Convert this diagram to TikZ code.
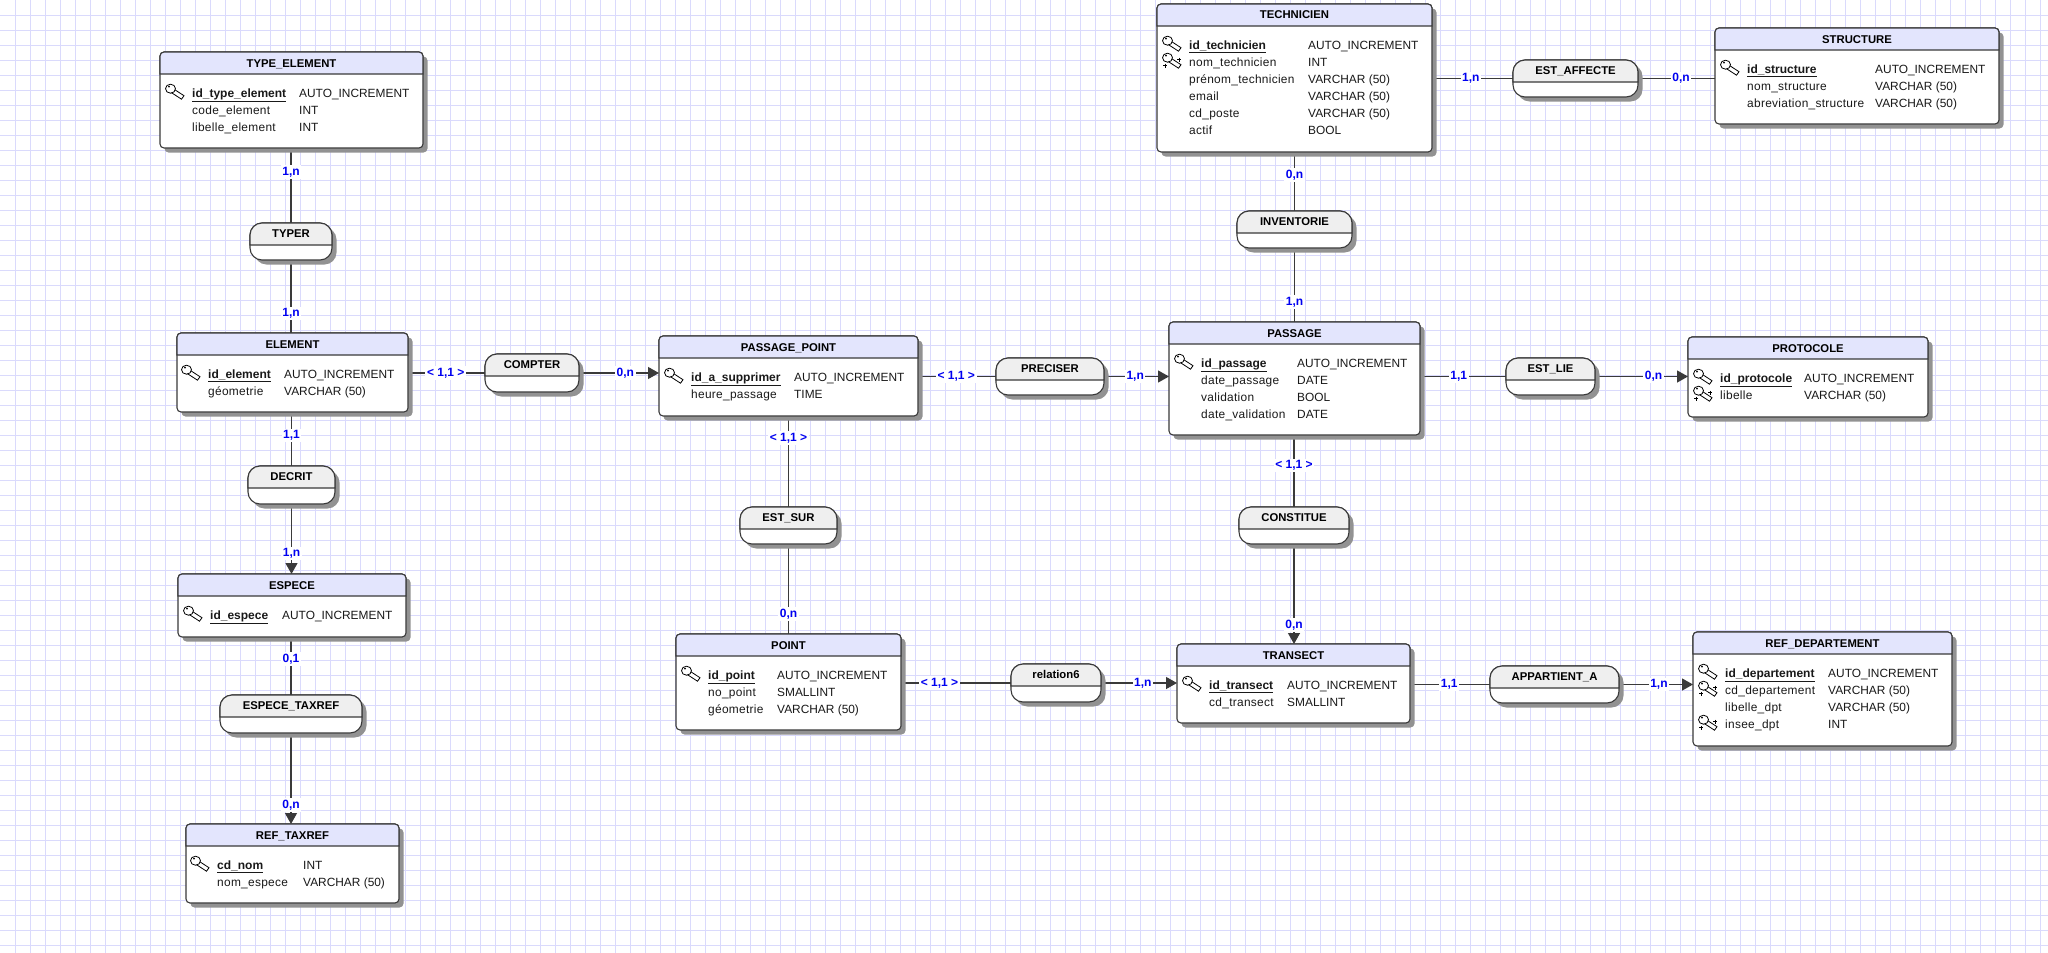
\documentclass[tikz,border=0pt]{standalone}
\usepackage{fontspec}
\setmainfont{Liberation Sans}
\newfontfamily\champfont[LetterSpace=2.5]{Liberation Sans}
\usepackage{tikz}
\usetikzlibrary{arrows.meta,backgrounds,shadows}
\definecolor{quadrillage}{HTML}{DADAFC}
\definecolor{trait}{HTML}{3A3A3A}
\definecolor{ombre}{HTML}{929292}
\definecolor{lavande}{HTML}{E3E5FD}
\definecolor{grisclair}{HTML}{EFEFEF}
\definecolor{bleucard}{HTML}{0000F0}
\tikzset{
  entite/.style={draw=trait, fill=white, line width=1.1pt, rounded corners=4pt, inner sep=0pt, outer sep=0pt,
    drop shadow={shadow xshift=4.5pt, shadow yshift=-4.5pt, fill=ombre, opacity=1}},
  assoc/.style={entite, rounded corners=12pt},
  bandeau/.style={draw=trait, fill=lavande, line width=1.1pt},
  bandeau assoc/.style={bandeau, fill=grisclair},
  titre/.style={anchor=base, inner sep=0pt, font=\fontsize{11.3}{13}\selectfont\bfseries, text=black},
  champ/.style={anchor=base west, inner sep=0pt, font=\fontsize{11.9}{14}\selectfont, text=black!90},
  lien/.style={draw=trait, line width=1.2pt, >={Triangle[length=11pt,width=12pt]}},
  card/.style={fill=white, inner sep=1.6pt, font=\fontsize{12}{13}\selectfont\bfseries, text=bleucard},
  trait cle/.style={draw=black, line width=.8pt, fill=white},
  pics/cleprim/.style={code={
    \draw[trait cle] (-18,-3.5) -- (-8,3) -- (-10.5,6.5) -- (-20.5,0) -- cycle;
    \draw[trait cle] (-21.5,-4) ellipse [x radius=5, y radius=4.5];
    \fill (-23,-6) circle [radius=1];
  }},
  pics/clesec/.style={code={
    \pic {cleprim};
    \draw[black, line width=.8pt] (-12,-2) -- (-8,-2) (-10,-4) -- (-10,0) (-26,4) -- (-22,4) (-24,2) -- (-24,6);
  }}
}

% nom, titre, gauche, haut, droite, bas, x champ, x type, lignes
\newcommand{\entiteMCD}[9]{
  \node[entite, minimum width={(#5-#3)*1pt}, minimum height={(#6-#4)*1pt}] (#1) at ({(#3+#5)/2},{(#4+#6)/2}) {};
  \filldraw[bandeau] (#3,{#4+22}) [rounded corners=4pt] -- (#3,#4) -- (#5,#4) [sharp corners] -- (#5,{#4+22}) -- cycle;
  \node[titre] (#1_titre) at ({(#3+#5)/2},{#4+15}) {#2};
  \foreach \champ/\typ/\cle [count=\ligne] in {#9} {
    \pgfmathsetmacro{\ycentre}{#4+23.7+17*\ligne}
    \ifnum\cle=1
      \node[champ] (#1_c\ligne) at (#7,\ycentre+4.3) {\textbf{\underline{\fontsize{12}{14}\selectfont\champ}}};
      \pic at (#7,\ycentre) {cleprim};
    \else
      \node[champ] (#1_c\ligne) at (#7,\ycentre+4.3) {\champfont\champ};
    \fi
    \ifnum\cle=2
      \pic at (#7,\ycentre) {clesec};
    \fi
    \node[champ] (#1_t\ligne) at (#8,\ycentre+4.3) {\typ};
  }
}
% nom, titre, gauche, haut, droite, bas
\newcommand{\assocMCD}[6]{
  \node[assoc, minimum width={(#5-#3)*1pt}, minimum height={(#6-#4)*1pt}] (#1) at ({(#3+#5)/2},{(#4+#6)/2}) {};
  \filldraw[bandeau assoc] (#3,{#4+22}) [rounded corners=12pt] -- (#3,#4) -- (#5,#4) [sharp corners] -- (#5,{#4+22}) -- cycle;
  \node[titre] (#1_titre) at ({(#3+#5)/2},{#4+14.5}) {#2};
}

\begin{document}
\begin{tikzpicture}[x=1pt,y=-1pt]
  \useasboundingbox (0,0) rectangle (2048,953);

  % entites
  \entiteMCD{type_element}{TYPE\_ELEMENT}{160}{52}{423}{148}{192}{299}{id\_type\_element/AUTO\_INCREMENT/1, code\_element/INT/0, libelle\_element/INT/0}
  \entiteMCD{element}{ELEMENT}{177}{333}{408}{412}{208}{284}{id\_element/AUTO\_INCREMENT/1, géometrie/VARCHAR (50)/0}
  \entiteMCD{espece}{ESPECE}{178}{574}{406}{637}{210}{282}{id\_espece/AUTO\_INCREMENT/1}
  \entiteMCD{ref_taxref}{REF\_TAXREF}{186}{824}{399}{903}{217}{303}{cd\_nom/INT/1, nom\_espece/VARCHAR (50)/0}
  \entiteMCD{passage_point}{PASSAGE\_POINT}{659}{336}{918}{416}{691}{794}{id\_a\_supprimer/AUTO\_INCREMENT/1, heure\_passage/TIME/0}
  \entiteMCD{point}{POINT}{676}{634}{901}{730}{708}{777}{id\_point/AUTO\_INCREMENT/1, no\_point/SMALLINT/0, géometrie/VARCHAR (50)/0}
  \entiteMCD{technicien}{TECHNICIEN}{1157}{4}{1432}{152}{1189}{1308}{id\_technicien/AUTO\_INCREMENT/1, nom\_technicien/INT/2, prénom\_technicien/VARCHAR (50)/0, email/VARCHAR (50)/0, cd\_poste/VARCHAR (50)/0, actif/BOOL/0}
  \entiteMCD{passage}{PASSAGE}{1169}{322}{1420}{435}{1201}{1297}{id\_passage/AUTO\_INCREMENT/1, date\_passage/DATE/0, validation/BOOL/0, date\_validation/DATE/0}
  \entiteMCD{transect}{TRANSECT}{1177}{644}{1410}{723}{1209}{1287}{id\_transect/AUTO\_INCREMENT/1, cd\_transect/SMALLINT/0}
  \entiteMCD{structure}{STRUCTURE}{1715}{28}{1999}{124}{1747}{1875}{id\_structure/AUTO\_INCREMENT/1, nom\_structure/VARCHAR (50)/0, abreviation\_structure/VARCHAR (50)/0}
  \entiteMCD{protocole}{PROTOCOLE}{1688}{337}{1928}{417}{1720}{1804}{id\_protocole/AUTO\_INCREMENT/1, libelle/VARCHAR (50)/2}
  \entiteMCD{ref_departement}{REF\_DEPARTEMENT}{1693}{632}{1952}{746}{1725}{1828}{id\_departement/AUTO\_INCREMENT/1, cd\_departement/VARCHAR (50)/2, libelle\_dpt/VARCHAR (50)/0, insee\_dpt/INT/2}

  % associations
  \assocMCD{typer}{TYPER}{250}{223}{332}{260}
  \assocMCD{decrit}{DECRIT}{248}{466}{335}{504}
  \assocMCD{espece_taxref}{ESPECE\_TAXREF}{220}{695}{362}{733}
  \assocMCD{compter}{COMPTER}{485}{354}{579}{392}
  \assocMCD{preciser}{PRECISER}{996}{358}{1104}{395}
  \assocMCD{est_sur}{EST\_SUR}{740}{507}{837}{544}
  \assocMCD{relation6}{relation6}{1011}{664}{1101}{702}
  \assocMCD{inventorie}{INVENTORIE}{1237}{211}{1352}{248}
  \assocMCD{constitue}{CONSTITUE}{1239}{507}{1349}{544}
  \assocMCD{est_affecte}{EST\_AFFECTE}{1513}{60}{1638}{97}
  \assocMCD{est_lie}{EST\_LIE}{1506}{358}{1595}{395}
  \assocMCD{appartient_a}{APPARTIENT\_A}{1490}{666}{1619}{703}

  \begin{scope}[on background layer]
    \fill[white] (0,0) rectangle (2048,953);
    \foreach \gx in {15,30,...,2040}
      \draw[quadrillage, line width=1pt] (\gx+.5,0) -- (\gx+.5,953);
    \foreach \gy in {15,30,...,945}
      \draw[quadrillage, line width=1pt] (0,\gy+.5) -- (2048,\gy+.5);

    % liens verticaux
    \draw[lien] (typer.north |- type_element.south) -- node[card,pos=.32] (c1) {1,n} (typer.north);
    \draw[lien] (typer.south) -- node[card,pos=.73] (c2) {1,n} (typer.south |- element.north);
    \draw[lien] (decrit.north |- element.south) -- node[card,pos=.44] (c3) {1,1} (decrit.north);
    \draw[lien,->] (decrit.south) -- node[card,pos=.71] (c4) {1,n} (decrit.south |- espece.north);
    \draw[lien] (espece_taxref.north |- espece.south) -- node[card,pos=.38] (c5) {0,1} (espece_taxref.north);
    \draw[lien,->] (espece_taxref.south) -- node[card,pos=.79] (c6) {0,n} (espece_taxref.south |- ref_taxref.north);
    \draw[lien] (est_sur.north |- passage_point.south) -- node[card,pos=.24] (c7) {< 1,1 >} (est_sur.north);
    \draw[lien] (est_sur.south) -- node[card,pos=.78] (c8) {0,n} (est_sur.south |- point.north);
    \draw[lien] (inventorie.north |- technicien.south) -- node[card,pos=.39] (c9) {0,n} (inventorie.north);
    \draw[lien] (inventorie.south) -- node[card,pos=.73] (c10) {1,n} (inventorie.south |- passage.north);
    \draw[lien] (constitue.north |- passage.south) -- node[card,pos=.42] (c11) {< 1,1 >} (constitue.north);
    \draw[lien,->] (constitue.south) -- node[card,pos=.81] (c12) {0,n} (constitue.south |- transect.north);

    % liens horizontaux
    \draw[lien] (compter.west -| element.east) -- node[card,pos=.49] (c13) {< 1,1 >} (compter.west);
    \draw[lien,->] (compter.east) -- node[card,pos=.58] (c14) {0,n} (compter.east -| passage_point.west);
    \draw[lien] (preciser.west -| passage_point.east) -- node[card,pos=.49] (c15) {< 1,1 >} (preciser.west);
    \draw[lien,->] (preciser.east) -- node[card,pos=.48] (c16) {1,n} (preciser.east -| passage.west);
    \draw[lien] (relation6.west -| point.east) -- node[card,pos=.35] (c17) {< 1,1 >} (relation6.west);
    \draw[lien,->] (relation6.east) -- node[card,pos=.55] (c18) {1,n} (relation6.east -| transect.west);
    \draw[lien] (appartient_a.west -| transect.east) -- node[card,pos=.49] (c19) {1,1} (appartient_a.west);
    \draw[lien,->] (appartient_a.east) -- node[card,pos=.54] (c20) {1,n} (appartient_a.east -| ref_departement.west);
    \draw[lien] (est_affecte.west -| technicien.east) -- node[card,pos=.48] (c21) {1,n} (est_affecte.west);
    \draw[lien] (est_affecte.east) -- node[card,pos=.56] (c22) {0,n} (est_affecte.east -| structure.west);
    \draw[lien] (est_lie.west -| passage.east) -- node[card,pos=.45] (c23) {1,1} (est_lie.west);
    \draw[lien,->] (est_lie.east) -- node[card,pos=.63] (c24) {0,n} (est_lie.east -| protocole.west);
  \end{scope}
\end{tikzpicture}
\end{document}
